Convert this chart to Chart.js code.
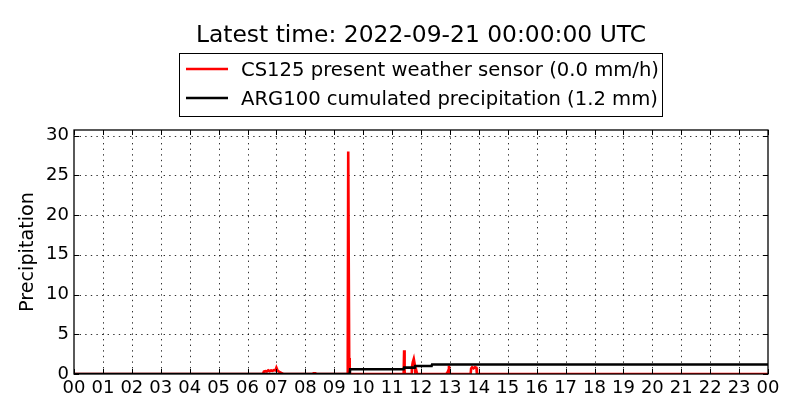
<!DOCTYPE html>
<html>
<head>
<meta charset="utf-8">
<script src="https://cdn.jsdelivr.net/npm/chart.js@4/dist/chart.umd.min.js"></script>
<style>
  html, body { margin: 0; padding: 0; background: #ffffff; }
  #wrap { width: 800px; height: 420px; position: relative; }
</style>
</head>
<body>
<div id="wrap"><canvas id="c"></canvas></div>
<script>
// ---- data ----
const titleText = "Latest time: 2022-09-21 00:00:00 UTC";
const yAxisTitle = "Precipitation";
const xTickLabels = ["00","01","02","03","04","05","06","07","08","09","10","11","12",
                     "13","14","15","16","17","18","19","20","21","22","23","00"];
const yTickValues = [0, 5, 10, 15, 20, 25, 30];

const cs125Label = "CS125 present weather sensor (0.0 mm/h)";
const cs125Times = ["00:00","06:32","06:34","06:37","06:40","06:43","06:46","06:49","06:52","06:55",
                    "06:58","07:00","07:02","07:05","07:08","07:11","07:14",
                    "08:15","08:17","08:21","08:23",
                    "09:27","09:28","09:29","09:30","09:31","09:32","09:33",
                    "11:24","11:25","11:26","11:27",
                    "11:40","11:41","11:43","11:45","11:47","11:48","11:50","11:52",
                    "12:52","12:55","12:57","12:58","12:59","13:00",
                    "13:43","13:44","13:46","13:49","13:52","13:55","13:56",
                    "24:00"];
const cs125Values = [0, 0, 0.3, 0.35, 0.3, 0.45, 0.35, 0.45, 0.4, 0.5,
                     0.45, 0.8, 0.5, 0.3, 0.2, 0.1, 0,
                     0, 0.1, 0.1, 0,
                     0, 1.2, 28.0, 28.0, 2.0, 0.3, 0,
                     0, 3.0, 0.2, 0,
                     0, 0.8, 1.5, 1.9, 1.2, 0.3, 0.5, 0,
                     0, 0.2, 0.5, 1.05, 0.1, 0,
                     0, 0.7, 0.85, 0.7, 0.85, 0.8, 0,
                     0];

const argLabel = "ARG100 cumulated precipitation (1.2 mm)";
const argTimes  = ["00:00","09:32","09:33","11:24","11:25","11:47","11:48","12:22","12:23","24:00"];
const argValues = [0, 0, 0.6, 0.6, 0.8, 0.8, 1.0, 1.0, 1.2, 1.2];

const yMax = 30.7;

// ---- helpers ----
function toHours(s) { const p = s.split(':').map(Number); return p[0] + p[1] / 60; }
function toPoints(times, values) { return times.map((t, i) => ({ x: toHours(t), y: values[i] })); }

const FONT = "'DejaVu Sans', sans-serif";

const decor = {
  id: 'decor',
  beforeDatasetsDraw(chart) {
    const { ctx, chartArea: a, scales: { x, y } } = chart;
    ctx.save();
    ctx.strokeStyle = 'rgba(0,0,0,0.9)';
    ctx.lineWidth = 0.9;
    ctx.setLineDash([1.4, 4.2]);
    for (let h = 1; h < 24; h++) {
      const px = Math.round(x.getPixelForValue(h)) + 0.5;
      ctx.beginPath(); ctx.moveTo(px, a.bottom); ctx.lineTo(px, a.top); ctx.stroke();
    }
    yTickValues.forEach(v => {
      if (v <= 0) return;
      const py = Math.round(y.getPixelForValue(v)) + 0.5;
      ctx.beginPath(); ctx.moveTo(a.left, py); ctx.lineTo(a.right, py); ctx.stroke();
    });
    ctx.restore();
  },
  afterDatasetsDraw(chart) {
    const { ctx, chartArea: a, scales: { x, y } } = chart;
    ctx.save();
    ctx.setLineDash([]);
    ctx.strokeStyle = '#000';
    ctx.lineWidth = 1.3;
    ctx.strokeRect(a.left, a.top, a.right - a.left, a.bottom - a.top);
    // inward ticks
    const tl = 5;
    ctx.lineWidth = 1;
    for (let h = 0; h <= 24; h++) {
      const px = Math.round(x.getPixelForValue(h)) + 0.5;
      ctx.beginPath(); ctx.moveTo(px, a.bottom); ctx.lineTo(px, a.bottom - tl); ctx.stroke();
      ctx.beginPath(); ctx.moveTo(px, a.top); ctx.lineTo(px, a.top + tl); ctx.stroke();
    }
    yTickValues.forEach(v => {
      const py = Math.round(y.getPixelForValue(v)) + 0.5;
      ctx.beginPath(); ctx.moveTo(a.left, py); ctx.lineTo(a.left + tl, py); ctx.stroke();
      ctx.beginPath(); ctx.moveTo(a.right, py); ctx.lineTo(a.right - tl, py); ctx.stroke();
    });
    ctx.restore();
  },
  afterDraw(chart) {
    const { ctx, chartArea: a } = chart;
    const cx = (a.left + a.right) / 2;
    ctx.save();
    // title
    ctx.fillStyle = '#000';
    ctx.font = "23.4px " + FONT;
    ctx.textAlign = 'center';
    ctx.textBaseline = 'alphabetic';
    ctx.fillText(titleText, cx, 42);
    // legend box
    const bx = 179.5, by = 53.5, bw = 483, bh = 63;
    ctx.fillStyle = '#fff';
    ctx.fillRect(bx, by, bw, bh);
    ctx.strokeStyle = '#000';
    ctx.lineWidth = 1;
    ctx.strokeRect(bx, by, bw, bh);
    const ds = chart.data.datasets;
    const rows = [{ d: ds[0], y: 69, base: 76 }, { d: ds[1], y: 98, base: 105 }];
    ctx.font = "19.6px " + FONT;
    ctx.textAlign = 'left';
    rows.forEach(r => {
      ctx.strokeStyle = r.d.borderColor;
      ctx.lineWidth = 2.6;
      ctx.beginPath(); ctx.moveTo(186, r.y); ctx.lineTo(228, r.y); ctx.stroke();
      ctx.fillStyle = '#000';
      ctx.fillText(r.d.label, 241, r.base);
    });
    // y axis title
    ctx.translate(28.5, (a.top + a.bottom) / 2);
    ctx.rotate(-Math.PI / 2);
    ctx.textAlign = 'center';
    ctx.textBaseline = 'middle';
    ctx.font = "19.2px " + FONT;
    ctx.fillText(yAxisTitle, 0, 0);
    ctx.restore();
  }
};

new Chart(document.getElementById('c'), {
  type: 'line',
  data: {
    datasets: [
      { label: cs125Label, data: toPoints(cs125Times, cs125Values), borderColor: '#ff0000',
        borderWidth: 2.6, pointRadius: 0, tension: 0, fill: false, order: 1 },
      { label: argLabel, data: toPoints(argTimes, argValues), borderColor: '#000000',
        borderWidth: 2.6, pointRadius: 0, tension: 0, fill: false, order: 0 }
    ]
  },
  options: {
    responsive: true,
    maintainAspectRatio: false,
    animation: false,
    devicePixelRatio: 1,
    layout: { padding: { left: 0, right: 32, top: 130, bottom: 0 } },
    plugins: { legend: { display: false }, title: { display: false }, tooltip: { enabled: false } },
    scales: {
      x: {
        type: 'linear', min: 0, max: 24,
        afterBuildTicks(scale) { scale.ticks = xTickLabels.map((_, i) => ({ value: i })); },
        afterFit(scale) { scale.height = 46; },
        grid: { display: false, drawTicks: false },
        border: { display: false },
        ticks: {
          autoSkip: false, maxRotation: 0, padding: 4, color: '#000',
          font: { family: FONT, size: 18 },
          callback: (v, i) => xTickLabels[i]
        }
      },
      y: {
        type: 'linear', min: 0, max: yMax,
        afterBuildTicks(scale) { scale.ticks = yTickValues.map(v => ({ value: v })); },
        afterFit(scale) { scale.width = 74; },
        grid: { display: false, drawTicks: false },
        border: { display: false },
        ticks: {
          padding: 5, color: '#000',
          font: { family: FONT, size: 18 },
          callback: (v) => String(v)
        }
      }
    }
  },
  plugins: [decor]
});
</script>
</body>
</html>
